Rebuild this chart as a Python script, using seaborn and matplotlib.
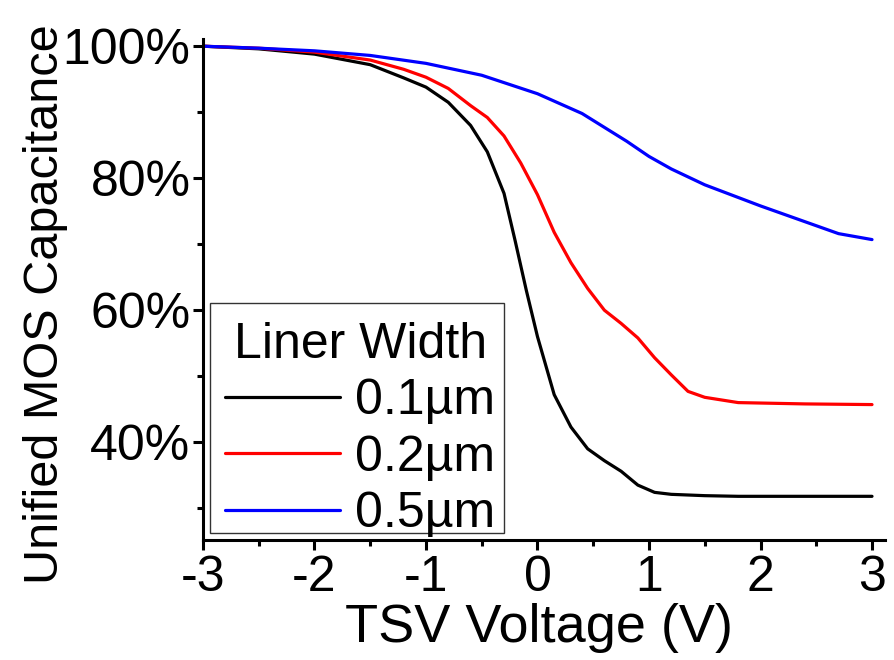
import matplotlib
matplotlib.use("Agg")
import matplotlib.pyplot as plt
import seaborn as sns
import pandas as pd
from matplotlib.patches import Rectangle
from matplotlib.ticker import MultipleLocator, FuncFormatter

# Data
x_01 = [-3, -2.5, -2, -1.5, -1.2, -1.0, -0.8, -0.6, -0.45, -0.3, -0.2, -0.1, 0.0,
        0.15, 0.3, 0.45, 0.6, 0.75, 0.9, 1.05, 1.2, 1.5, 1.8, 2.4, 3.0]
y_01 = [100, 99.6, 98.8, 97.2, 95.2, 93.8, 91.5, 88.0, 84.0, 77.7, 70.5, 63.0, 56.0,
        47.2, 42.3, 39.0, 37.2, 35.6, 33.5, 32.4, 32.1, 31.9, 31.8, 31.8, 31.8]

x_02 = [-3, -2.5, -2, -1.5, -1.2, -1.0, -0.8, -0.6, -0.45, -0.3, -0.15, 0.0, 0.15,
        0.3, 0.45, 0.6, 0.75, 0.9, 1.05, 1.2, 1.35, 1.5, 1.8, 2.4, 3.0]
y_02 = [100, 99.7, 99.1, 97.9, 96.5, 95.3, 93.6, 91.0, 89.2, 86.4, 82.3, 77.5, 71.8,
        67.2, 63.3, 60.0, 58.0, 55.8, 52.8, 50.2, 47.7, 46.8, 46.0, 45.8, 45.7]

x_05 = [-3, -2.5, -2, -1.5, -1.0, -0.5, 0.0, 0.4, 0.8, 1.0, 1.2, 1.5, 2.0, 2.4, 2.7, 3.0]
y_05 = [100, 99.7, 99.3, 98.6, 97.4, 95.6, 92.8, 89.8, 85.6, 83.3, 81.4, 79.0, 75.8,
        73.4, 71.6, 70.7]

labels = ["0.1µm", "0.2µm", "0.5µm"]
colors = ["#000000", "#ff0000", "#0000ff"]

df = pd.concat([
    pd.DataFrame({"V": x_01, "C": y_01, "Liner Width": labels[0]}),
    pd.DataFrame({"V": x_02, "C": y_02, "Liner Width": labels[1]}),
    pd.DataFrame({"V": x_05, "C": y_05, "Liner Width": labels[2]}),
], ignore_index=True)

sns.set_style("ticks")
plt.rcParams['font.family'] = ['Liberation Sans', 'DejaVu Sans']
plt.rcParams['text.color'] = 'black'
plt.rcParams['axes.labelcolor'] = 'black'
plt.rcParams['xtick.color'] = 'black'
plt.rcParams['ytick.color'] = 'black'

fig = plt.figure(figsize=(8.94, 6.6), dpi=100)
ax = fig.add_axes([0.227, 0.182, 0.763, 0.759])

sns.lineplot(data=df, x="V", y="C", hue="Liner Width", palette=colors,
             hue_order=labels, linewidth=2.3, sort=False, ax=ax)

ax.set_xlim(-3, 3.117)
ax.set_ylim(25.2, 101.1)
ax.xaxis.set_major_locator(MultipleLocator(1))
ax.xaxis.set_minor_locator(MultipleLocator(0.5))
ax.yaxis.set_major_locator(MultipleLocator(20))
ax.yaxis.set_minor_locator(MultipleLocator(10))
ax.yaxis.set_major_formatter(FuncFormatter(lambda v, p: f"{int(round(v))}%"))
ax.xaxis.set_major_formatter(FuncFormatter(lambda v, p: f"{int(round(v))}"))

for s in ["top", "right"]:
    ax.spines[s].set_visible(False)
for s in ["left", "bottom"]:
    ax.spines[s].set_linewidth(2.2)
    ax.spines[s].set_color("black")

ax.tick_params(axis="both", which="major", direction="out", length=7, width=2.2,
               labelsize=36, colors="black", pad=2)
ax.tick_params(axis="x", which="major", pad=4)
ax.tick_params(axis="both", which="minor", direction="out", length=4.5, width=2.2,
               colors="black")

ax.set_xlabel("TSV Voltage (V)", fontsize=39, labelpad=1)
ax.set_ylabel("Unified MOS Capacitance", fontsize=35, labelpad=-4)
ax.xaxis.label.set_x(0.493)
ax.yaxis.label.set_y(0.47)

leg = ax.legend(title="Liner Width", fontsize=36, title_fontsize=36,
                loc="lower left", bbox_to_anchor=(0.0145, -0.02), frameon=False,
                handlelength=2.3, handletextpad=0.3, borderpad=0.25,
                labelspacing=0.21, borderaxespad=0.0)
for line in leg.get_lines():
    line.set_linewidth(2.3)

# legend frame box
ax.add_patch(Rectangle((0.0103, 0.014), 0.431, 0.459, transform=ax.transAxes,
                       fill=False, edgecolor="#333333", linewidth=1.0,
                       zorder=leg.get_zorder() - 0.1))

fig.savefig("out.png", dpi=100)
